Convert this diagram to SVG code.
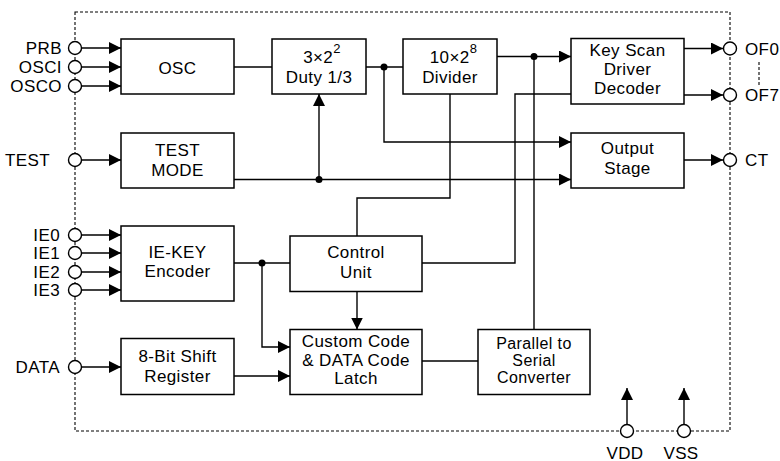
<svg xmlns="http://www.w3.org/2000/svg" width="780" height="461" viewBox="0 0 780 461">
<defs>
<style>
text{font-family:"Liberation Sans",Arial,sans-serif;font-size:17px;fill:#000;letter-spacing:0.4px}
.c{text-anchor:middle}
.e{text-anchor:end}
.sm{font-size:16px}
.box{fill:#fff;stroke:#000;stroke-width:1.5}
.w{fill:none;stroke:#000;stroke-width:1.4}
.pin{fill:#fff;stroke:#000;stroke-width:1.4}
.dot{fill:#000}
.sup{font-size:13px}
</style>
<marker id="ah" markerUnits="userSpaceOnUse" markerWidth="12" markerHeight="12" refX="12" refY="6" orient="auto">
<path d="M0,0 L12,6 L0,12 z" fill="#000"/>
</marker>
</defs>
<rect width="780" height="461" fill="#fff"/>
<rect id="border" x="75" y="12" width="655" height="419" fill="none" stroke="#000" stroke-width="1.1" stroke-dasharray="3,2"/>
<line x1="759" y1="62" x2="759" y2="85" stroke="#000" stroke-width="1.1" stroke-dasharray="3,2"/>

<g id="connectors">
<line class="w" x1="82" y1="48" x2="121" y2="48" marker-end="url(#ah)"/>
<line class="w" x1="82" y1="67" x2="121" y2="67" marker-end="url(#ah)"/>
<line class="w" x1="82" y1="86" x2="121" y2="86" marker-end="url(#ah)"/>
<line class="w" x1="82" y1="160" x2="121" y2="160" marker-end="url(#ah)"/>
<line class="w" x1="82" y1="235" x2="121" y2="235" marker-end="url(#ah)"/>
<line class="w" x1="82" y1="253" x2="121" y2="253" marker-end="url(#ah)"/>
<line class="w" x1="82" y1="272" x2="121" y2="272" marker-end="url(#ah)"/>
<line class="w" x1="82" y1="290" x2="121" y2="290" marker-end="url(#ah)"/>
<line class="w" x1="82" y1="367" x2="121" y2="367" marker-end="url(#ah)"/>
<line class="w" x1="234" y1="67" x2="272" y2="67"/>
<line class="w" x1="366" y1="67" x2="403" y2="67"/>
<polyline class="w" points="384,67 384,142 571,142" marker-end="url(#ah)"/>
<line class="w" x1="497" y1="56.5" x2="571" y2="56.5" marker-end="url(#ah)"/>
<line class="w" x1="534" y1="56.5" x2="534" y2="329.5"/>
<polyline class="w" points="450,94 450,198 357,198 357,236"/>
<polyline class="w" points="571,94 515,94 515,263 422,263"/>
<line class="w" x1="234" y1="179.5" x2="571" y2="179.5" marker-end="url(#ah)"/>
<line class="w" x1="319" y1="179.5" x2="319" y2="94" marker-end="url(#ah)"/>
<line class="w" x1="684" y1="48.5" x2="723" y2="48.5" marker-end="url(#ah)"/>
<line class="w" x1="684" y1="95" x2="723" y2="95" marker-end="url(#ah)"/>
<line class="w" x1="684" y1="160" x2="723" y2="160" marker-end="url(#ah)"/>
<line class="w" x1="234" y1="263" x2="290" y2="263"/>
<polyline class="w" points="262,263 262,347 290,347" marker-end="url(#ah)"/>
<line class="w" x1="357" y1="291.5" x2="357" y2="329.5" marker-end="url(#ah)"/>
<line class="w" x1="234" y1="376" x2="290" y2="376" marker-end="url(#ah)"/>
<line class="w" x1="422" y1="361" x2="478" y2="361"/>
<line class="w" x1="627" y1="424.5" x2="627" y2="388" marker-end="url(#ah)"/>
<line class="w" x1="684" y1="424.5" x2="684" y2="388" marker-end="url(#ah)"/>
<circle class="dot" cx="384" cy="67" r="3.5"/>
<circle class="dot" cx="534" cy="56.5" r="3.5"/>
<circle class="dot" cx="319" cy="179.5" r="3.5"/>
<circle class="dot" cx="262" cy="263" r="3.5"/>
</g>

<g id="osc"><rect class="box" x="121" y="39" width="113" height="55"/><text class="c" x="177.5" y="74">OSC</text></g>
<g id="duty"><rect class="box" x="272" y="39" width="94" height="55"/><text class="c" x="322" y="63">3×2<tspan class="sup" dy="-10">2</tspan></text><text class="c" x="319" y="82.7">Duty 1/3</text></g>
<g id="divider"><rect class="box" x="403" y="39" width="94" height="55"/><text class="c" x="453.5" y="63">10×2<tspan class="sup" dy="-10">8</tspan></text><text class="c" x="450" y="83">Divider</text></g>
<g id="keyscan"><rect class="box" x="571" y="38.5" width="113" height="65.5"/><text class="c" x="627.5" y="56">Key Scan</text><text class="c" x="627.5" y="75">Driver</text><text class="c" x="627.5" y="94">Decoder</text></g>
<g id="testmode"><rect class="box" x="121" y="133" width="113" height="55"/><text class="c" x="177.5" y="156">TEST</text><text class="c" x="177.5" y="175.7">MODE</text></g>
<g id="output"><rect class="box" x="571" y="133" width="113" height="55"/><text class="c" x="627.5" y="154">Output</text><text class="c" x="627.5" y="174">Stage</text></g>
<g id="iekey"><rect class="box" x="121" y="226" width="113" height="75"/><text class="c" x="177.5" y="258.3">IE-KEY</text><text class="c" x="177.5" y="277.3">Encoder</text></g>
<g id="control"><rect class="box" x="290" y="236" width="132" height="55.5"/><text class="c" x="356" y="258">Control</text><text class="c" x="356" y="277.7">Unit</text></g>
<g id="shift"><rect class="box" x="121" y="338.5" width="113" height="56"/><text class="c" x="177.5" y="362.3">8-Bit Shift</text><text class="c" x="177.5" y="381.7">Register</text></g>
<g id="latch"><rect class="box" x="290" y="329.5" width="132" height="65"/><text class="c" x="356" y="346.7">Custom Code</text><text class="c" x="356" y="365.7">&amp; DATA Code</text><text class="c" x="356" y="384.3">Latch</text></g>
<g id="p2s"><rect class="box" x="478" y="329.5" width="112" height="65"/><text class="c sm" x="534" y="349">Parallel to</text><text class="c sm" x="534" y="366">Serial</text><text class="c sm" x="534" y="383">Converter</text></g>

<g id="pins">
<circle class="pin" cx="75" cy="48" r="6.5"/><text class="e" x="62" y="53.5">PRB</text>
<circle class="pin" cx="75" cy="67" r="6.5"/><text class="e" x="62" y="72.7">OSCI</text>
<circle class="pin" cx="75" cy="86" r="6.5"/><text class="e" x="62" y="91.7">OSCO</text>
<circle class="pin" cx="75" cy="160" r="6.5"/><text class="e" x="50" y="166">TEST</text>
<circle class="pin" cx="75" cy="235" r="6.5"/><text class="e" x="60" y="241">IE0</text>
<circle class="pin" cx="75" cy="253" r="6.5"/><text class="e" x="60" y="259">IE1</text>
<circle class="pin" cx="75" cy="272" r="6.5"/><text class="e" x="60" y="278">IE2</text>
<circle class="pin" cx="75" cy="290" r="6.5"/><text class="e" x="60" y="296">IE3</text>
<circle class="pin" cx="75" cy="367" r="6.5"/><text class="e" x="60" y="373">DATA</text>
<circle class="pin" cx="730" cy="48.5" r="6.5"/><text x="745" y="54.5">OF0</text>
<circle class="pin" cx="730" cy="95" r="6.5"/><text x="745" y="101">OF7</text>
<circle class="pin" cx="730" cy="160" r="6.5"/><text x="745" y="166">CT</text>
<circle class="pin" cx="627" cy="431" r="6.5"/><text class="c" x="625" y="458.5">VDD</text>
<circle class="pin" cx="684" cy="431" r="6.5"/><text class="c" x="681" y="458.5">VSS</text>
</g>
</svg>
